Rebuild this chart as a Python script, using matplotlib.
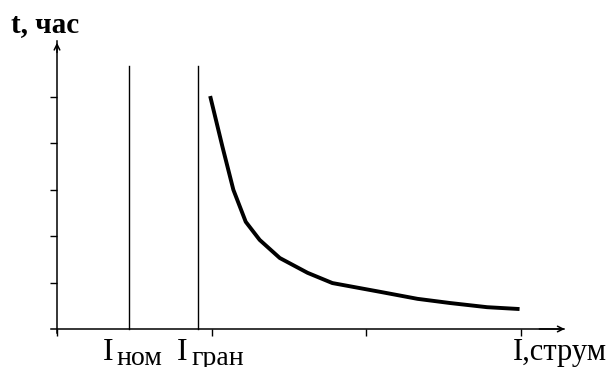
import matplotlib.pyplot as plt

# Données (unités arbitraires)
courant = [0.99, 1.07, 1.14, 1.22, 1.31, 1.44, 1.62, 1.78, 2.09, 2.33, 2.54, 2.78, 2.99]
temps = [5.02, 3.92, 3.00, 2.31, 1.92, 1.53, 1.21, 0.99, 0.80, 0.65, 0.56, 0.47, 0.43]
i_nom = 0.465
i_gran = 0.91
haut_lignes = 5.67
xticks = [0, 1, 2, 3]
yticks = [1, 2, 3, 4, 5]

plt.rcParams['font.family'] = ['Liberation Serif', 'DejaVu Serif']

fig = plt.figure(figsize=(6.12, 3.67), dpi=100)
ax = fig.add_axes([0, 0, 1, 1])
ax.set_xlim(-0.3685, 3.5876)
ax.set_ylim(-0.819, 7.09)

# axes façon croquis
for s in ['top', 'right']:
    ax.spines[s].set_visible(False)
ax.spines['left'].set_position(('data', 0))
ax.spines['bottom'].set_position(('data', 0))
ax.spines['left'].set_bounds(-0.09, 6.2)
ax.spines['bottom'].set_bounds(-0.04, 3.28)
ax.spines['left'].set_linewidth(1.1)
ax.spines['bottom'].set_linewidth(1.1)
ax.set_xticks(xticks)
ax.set_yticks(yticks)
ax.set_xticklabels([])
ax.set_yticklabels([])
ax.tick_params(axis='both', direction='out', length=5, width=1.0)

# flèches
ax.annotate('', xy=(0, 6.23), xytext=(0, 5.9),
            arrowprops=dict(arrowstyle='->', lw=1.1, color='black'))
ax.annotate('', xy=(3.30, 0), xytext=(3.1, 0),
            arrowprops=dict(arrowstyle='->', lw=1.1, color='black'))

# lignes verticales I_nom et I_gran
ax.plot([i_nom, i_nom], [0, haut_lignes], color='black', lw=1.0)
ax.plot([i_gran, i_gran], [0, haut_lignes], color='black', lw=1.0)

# courbe temps-courant
ax.plot(courant, temps, color='black', lw=2.8, solid_capstyle='butt')

# textes
ax.text(-0.30, 6.40, 't, час', fontsize=21, fontweight='bold', ha='left', va='baseline')
ax.text(0.295, -0.668, 'I', fontsize=23, ha='left', va='baseline')
ax.text(0.382, -0.776, 'ном', fontsize=20, ha='left', va='baseline')
ax.text(0.778, -0.668, 'I', fontsize=23, ha='left', va='baseline')
ax.text(0.872, -0.776, 'гран', fontsize=20, ha='left', va='baseline')
ax.text(2.95, -0.668, 'I,струм', fontsize=22, ha='left', va='baseline')

plt.savefig('out.png', dpi=100)
